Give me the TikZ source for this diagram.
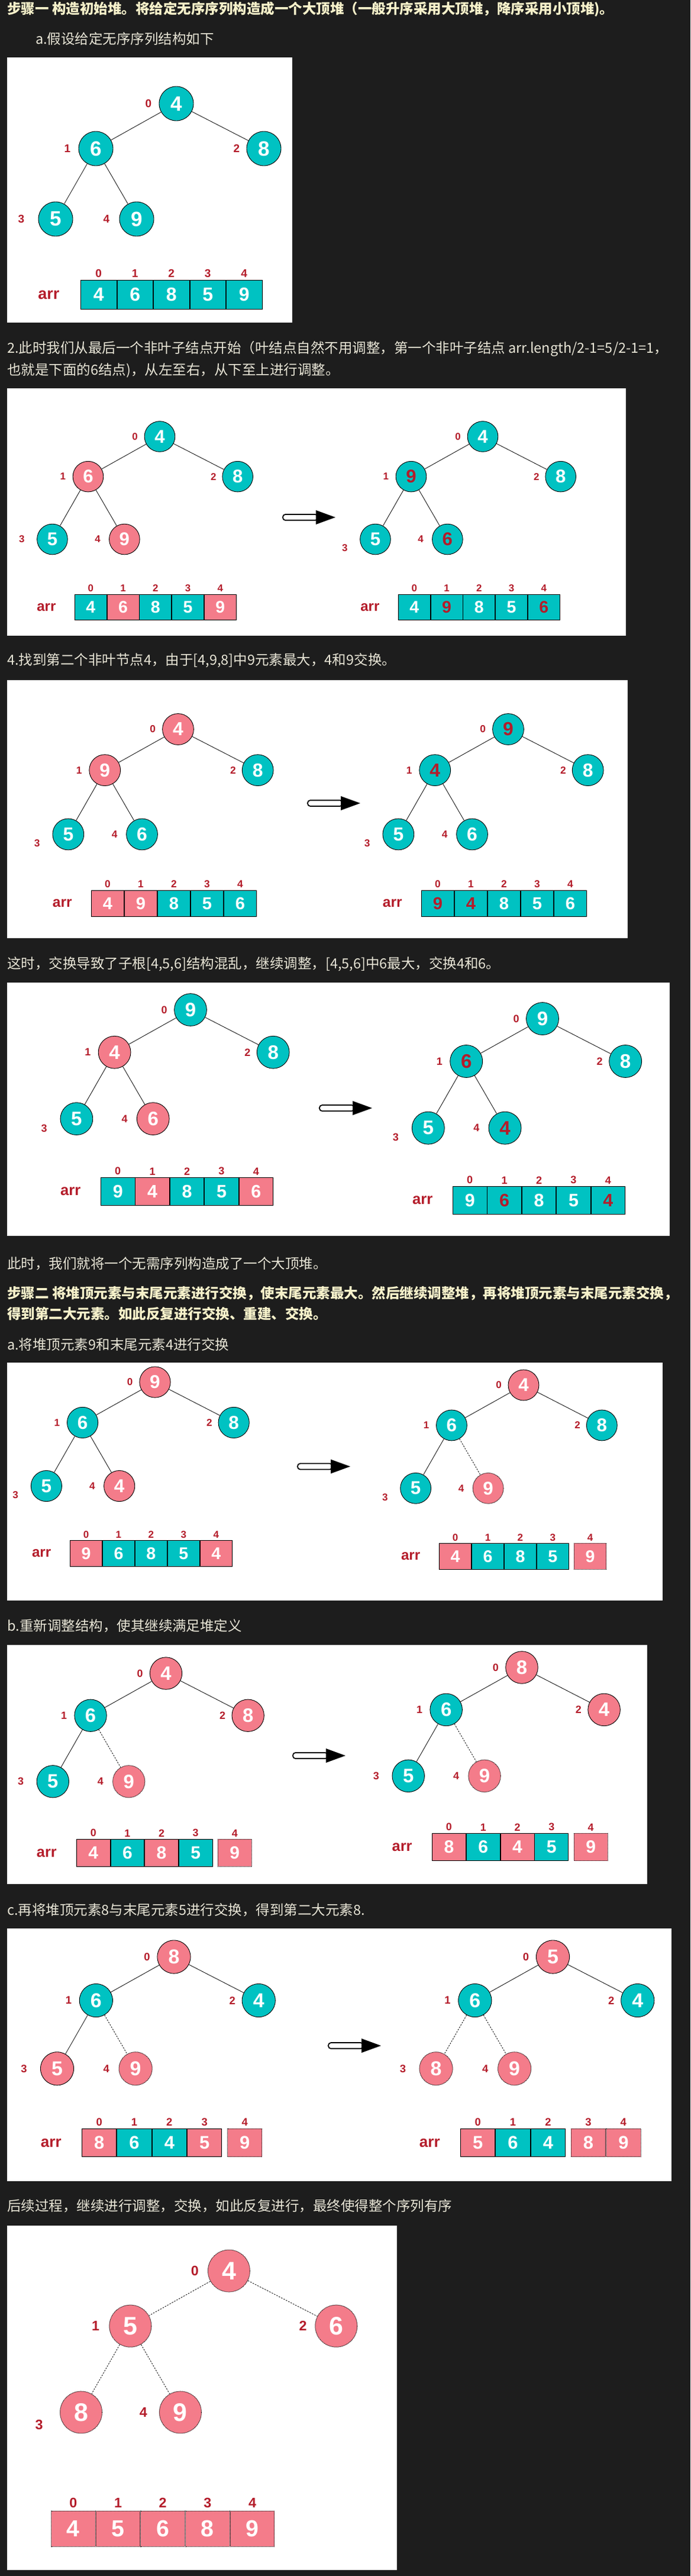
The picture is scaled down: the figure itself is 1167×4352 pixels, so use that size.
\documentclass[tikz,border=0pt]{standalone}
\usepackage{fontspec}
\setmainfont{Liberation Sans}
\newfontfamily\cjk{Noto Sans CJK SC}
\usetikzlibrary{positioning,calc}

\definecolor{pagebg}{RGB}{29,29,29}
\definecolor{heapteal}{RGB}{0,194,194}
\definecolor{heappink}{RGB}{244,124,138}
\definecolor{heapred}{RGB}{180,28,42}
\definecolor{bodytext}{RGB}{232,229,214}
\definecolor{titletext}{RGB}{246,241,202}

\tikzset{
  txt/.style={anchor=west, inner sep=0pt, text=bodytext, font=\cjk\fontsize{23.5}{28}\selectfont},
  ttl/.style={txt, text=titletext, font=\cjk\bfseries\fontsize{23.5}{28}\selectfont},
  panel/.style={fill=white},
  hnum/.style={circle, minimum size=58pt, inner sep=0pt, draw=black, line width=0.9pt, font=\bfseries\fontsize{35}{35}\selectfont},
  tnode/.style={hnum, fill=heapteal, text=white},
  pnode/.style={hnum, fill=heappink, text=white},
  hnode/.style={hnum, fill=heapteal, text=heapred},
  dnode/.style={hnum, fill=heappink, text=white, line width=1pt, densely dotted},
  idx/.style={text=heapred, inner sep=1pt, font=\bfseries\fontsize{19}{19}\selectfont},
  link/.style={line width=0.8pt},
  gone/.style={line width=0.8pt, dash pattern=on 2.5pt off 2pt},
  cellbase/.style={rectangle, minimum width=60.6pt, minimum height=49pt, inner sep=0pt, draw=black, line width=0.9pt, font=\bfseries\fontsize{32}{32}\selectfont},
  tcell/.style={cellbase, fill=heapteal, text=white},
  pcell/.style={cellbase, fill=heappink, text=white},
  hcell/.style={cellbase, fill=heapteal, text=heapred},
  dcell/.style={cellbase, fill=heappink, text=white, line width=1pt, densely dotted},
  gcell/.style={dcell, xshift=9pt},
  arrlab/.style={text=heapred, font=\bfseries\fontsize{27}{27}\selectfont},
}

% tree: name, root, scale, nodes (style/value), edges, drop of index 3
\newcommand{\heaptree}[6]{
  \begin{scope}[shift={#2}, scale=#3, transform shape]
    \foreach \j/\x/\y/\lx/\ly in {0/0/0/-47/0, 1/-136/76/-184/76, 2/148/76/102/76,
                                  3/-204/195/-262/195+#6, 4/-67/195/-118/195} {
      \coordinate (#1p\j) at (\x,\y);
      \coordinate (#1q\j) at (\lx,\ly);
    }
    \foreach[count=\j from 0] \s/\v in {#4} {
      \node[\s] (#1\j) at (#1p\j) {\v};
      \node[idx] (#1i\j) at (#1q\j) {\j};
    }
    \foreach[count=\j] \e in {#5} {
      \pgfmathtruncatemacro\up{(\j-1)/2}
      \draw[\e] (#1\up) -- (#1\j);
    }
  \end{scope}
}

% array: name, top left, scale, cells (style/value), label
\newcommand{\heaparray}[5]{
  \begin{scope}[shift={#2}, scale=#3, transform shape]
    \foreach[count=\j from 0] \s/\v in {#4} {
      \ifnum\j=0
        \node[\s, anchor=north west] (#1c0) at (0,0) {\v};
      \else
        \pgfmathtruncatemacro\prev{\j-1}
        \node[\s, right=0pt of #1c\prev] (#1c\j) {\v};
      \fi
      \node[idx, above=3pt of #1c\j] (#1n\j) {\j};
    }
    \if\relax\detokenize{#5}\relax\else
      \node[arrlab, left=32pt of #1c0] (#1arr) {#5};
    \fi
  \end{scope}
}

\newcommand{\swaparrow}[2]{
  \coordinate (#1) at #2;
  \filldraw[fill=white, line width=1.8pt, rounded corners=4.5pt] ($(#1)+(1,-5)$) rectangle ($(#1)+(60,5)$);
  \fill ($(#1)+(57,-12)$) -- ($(#1)+(90,0)$) -- ($(#1)+(57,12)$) -- cycle;
}

\begin{document}
\begin{tikzpicture}[x=1pt, y=-1pt]
  \useasboundingbox (0,0) rectangle (1167,4352);
  \fill[pagebg] (0,0) rectangle (1167,4352);

  % step one
  \node[ttl] (txt1) at (12,16) {步骤一 构造初始堆。将给定无序序列构造成一个大顶堆（一般升序采用大顶堆，降序采用小顶堆)。};
  \node[txt] (txt2) at (60,66) {a.假设给定无序序列结构如下};
  \fill[panel] (12,97) rectangle (494,545);
  \heaptree{p1}{(298,175)}{1}{tnode/4,tnode/6,tnode/8,tnode/5,tnode/9}{link,link,link,link}{0}
  \heaparray{p1}{(136,473)}{1}{tcell/4,tcell/6,tcell/8,tcell/5,tcell/9}{arr}

  \node[txt] (txt3) at (12,589) {2.此时我们从最后一个非叶子结点开始（叶结点自然不用调整，第一个非叶子结点 arr.length/2-1=5/2-1=1，};
  \node[txt] (txt4) at (12,626) {也就是下面的6结点)，从左至右，从下至上进行调整。};
  \fill[panel] (12,656) rectangle (1058,1074);
  \heaptree{p2l}{(270,737.5)}{0.89}{tnode/4,pnode/6,tnode/8,tnode/5,pnode/9}{link,link,link,link}{0}
  \heaparray{p2l}{(126,1003.6)}{0.89}{tcell/4,pcell/6,tcell/8,tcell/5,pcell/9}{arr}
  \swaparrow{p2go}{(477,874)}
  \heaptree{p2r}{(816,737.5)}{0.89}{tnode/4,hnode/9,tnode/8,tnode/5,hnode/6}{link,link,link,link}{16}
  \heaparray{p2r}{(673,1003.6)}{0.89}{tcell/4,hcell/9,tcell/8,tcell/5,hcell/6}{arr}

  \node[txt] (txt5) at (12,1116) {4.找到第二个非叶节点4，由于[4,9,8]中9元素最大，4和9交换。};
  \fill[panel] (12,1149) rectangle (1061,1585);
  \heaptree{p3l}{(301,1232)}{0.91}{pnode/4,pnode/9,tnode/8,tnode/5,tnode/6}{link,link,link,link}{17}
  \heaparray{p3l}{(154,1503.6)}{0.91}{pcell/4,pcell/9,tcell/8,tcell/5,tcell/6}{arr}
  \swaparrow{p3go}{(519,1357)}
  \heaptree{p3r}{(859,1232)}{0.91}{hnode/9,hnode/4,tnode/8,tnode/5,tnode/6}{link,link,link,link}{17}
  \heaparray{p3r}{(712,1503.6)}{0.91}{hcell/9,hcell/4,tcell/8,tcell/5,tcell/6}{arr}

  \node[txt] (txt6) at (12,1629) {这时，交换导致了子根[4,5,6]结构混乱，继续调整，[4,5,6]中6最大，交换4和6。};
  \fill[panel] (12,1660) rectangle (1132,2088);
  \heaptree{p4l}{(322,1706)}{0.944}{tnode/9,pnode/4,tnode/8,tnode/5,pnode/6}{link,link,link,link}{17}
  \heaparray{p4l}{(170,1989)}{0.95}{tcell/9,pcell/4,tcell/8,tcell/5,pcell/6}{arr}
  \swaparrow{p4go}{(539,1872)}
  \heaptree{p4r}{(917,1721)}{0.947}{tnode/9,hnode/6,tnode/8,tnode/5,hnode/4}{link,link,link,link}{17}
  \heaparray{p4r}{(765,2004)}{0.95}{tcell/9,hcell/6,tcell/8,tcell/5,hcell/4}{arr}

  % step two
  \node[txt] (txt7) at (12,2135) {此时，我们就将一个无需序列构造成了一个大顶堆。};
  \node[ttl] (txt8) at (12,2185) {步骤二 将堆顶元素与末尾元素进行交换，使末尾元素最大。然后继续调整堆，再将堆顶元素与末尾元素交换，};
  \node[ttl] (txt9) at (12,2219) {得到第二大元素。如此反复进行交换、重建、交换。};
  \node[txt] (txt10) at (12,2271) {a.将堆顶元素9和末尾元素4进行交换};
  \fill[panel] (12,2302) rectangle (1120,2704);
  \heaptree{p5l}{(262,2335)}{0.9}{pnode/9,tnode/6,tnode/8,tnode/5,pnode/4}{link,link,link,link}{17}
  \heaparray{p5l}{(118,2602)}{0.894}{pcell/9,tcell/6,tcell/8,tcell/5,pcell/4}{arr}
  \swaparrow{p5go}{(502,2477.5)}
  \heaptree{p5r}{(885,2340)}{0.894}{pnode/4,tnode/6,tnode/8,tnode/5,dnode/9}{link,link,link,gone}{17}
  \heaparray{p5r}{(742,2607)}{0.894}{pcell/4,tcell/6,tcell/8,tcell/5,gcell/9}{arr}

  \node[txt] (txt11) at (12,2747) {b.重新调整结构，使其继续满足堆定义};
  \fill[panel] (12,2779) rectangle (1094,3182.5);
  \heaptree{p6l}{(280.5,2827)}{0.937}{pnode/4,tnode/6,pnode/8,tnode/5,dnode/9}{link,link,link,gone}{0}
  \heaparray{p6l}{(129,3107)}{0.937}{pcell/4,tcell/6,pcell/8,tcell/5,gcell/9}{arr}
  \swaparrow{p6go}{(494,2966)}
  \heaptree{p6r}{(882,2817)}{0.94}{pnode/8,tnode/6,pnode/4,tnode/5,dnode/9}{link,link,link,gone}{0}
  \heaparray{p6r}{(730,3097)}{0.94}{pcell/8,tcell/6,pcell/4,tcell/5,gcell/9}{arr}

  \node[txt] (txt12) at (12,3227) {c.再将堆顶元素8与末尾元素5进行交换，得到第二大元素8.};
  \fill[panel] (12,3258) rectangle (1135,3685);
  \heaptree{p7l}{(294,3306)}{0.968}{pnode/8,tnode/6,tnode/4,pnode/5,dnode/9}{link,link,link,gone}{0}
  \heaparray{p7l}{(138,3596)}{0.965}{pcell/8,tcell/6,tcell/4,pcell/5,gcell/9}{arr}
  \swaparrow{p7go}{(554,3456)}
  \heaptree{p7r}{(934.5,3306)}{0.968}{pnode/5,tnode/6,tnode/4,dnode/8,dnode/9}{link,link,gone,gone}{0}
  \heaparray{p7r}{(778,3596)}{0.965}{pcell/5,tcell/6,tcell/4,gcell/8,dcell/9}{arr}

  \node[txt] (txt13) at (12,3727) {后续过程，继续进行调整，交换，如此反复进行，最终使得整个序列有序};
  \fill[panel] (12,3760) rectangle (671,4342);
  \heaptree{p8}{(387,3836.5)}{1.225}{dnode/4,dnode/5,dnode/6,dnode/8,dnode/9}{gone,gone,gone,gone}{17}
  \heaparray{p8}{(86,4241.5)}{1.228}{dcell/4,dcell/5,dcell/6,dcell/8,dcell/9}{}
\end{tikzpicture}
\end{document}
